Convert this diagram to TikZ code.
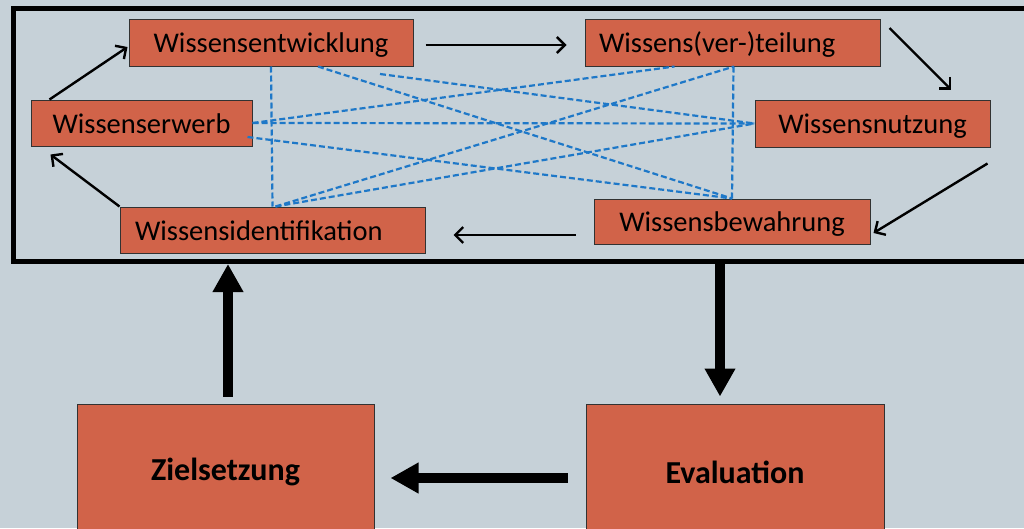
\documentclass[tikz,border=0pt]{standalone}
\usepackage{fontspec}
\setmainfont{Carlito}
\usetikzlibrary{arrows.meta}
\definecolor{bg}{RGB}{198,209,216}
\definecolor{boxfill}{RGB}{209,99,73}
\definecolor{boxline}{RGB}{50,50,50}
\definecolor{dash}{RGB}{30,120,200}
\tikzset{
  box/.style={draw=boxline, line width=1pt, fill=boxfill, inner sep=0pt,
    text height=20pt, text depth=0pt,
    font=\fontsize{28.5}{32}\selectfont, text=black},
  bigbox/.style={draw=boxline, line width=1pt, fill=boxfill, inner sep=0pt,
    font=\fontsize{32}{36}\selectfont\bfseries, text=black},
  thin/.style={line width=2.4pt, -{Straight Barb[length=8pt,width=16pt,line width=2.4pt]}},
  thick/.style={line width=10pt, -{Triangle[length=28pt,width=29pt]}},
  link/.style={draw=dash, line width=2.2pt, dash pattern=on 6pt off 3pt},
}
\begin{document}
\begin{tikzpicture}[x=1pt,y=-1pt]
\useasboundingbox (0,0) rectangle (1024,528);
\clip (0,0) rectangle (1024,528);
\fill[bg] (0,0) rectangle (1024,528);
\draw[line width=5pt] (13,8) rectangle (1040,261);

\node[box, minimum width=284pt, minimum height=47pt] (E) at (271,42.5) {Wissensentwicklung};
\node[box, text width=267pt, inner xsep=14pt, minimum height=47pt, align=left] (T) at (732.5,42.5) {Wissens(ver-)teilung};
\node[box, minimum width=221pt, minimum height=46pt] (Er) at (141.5,123) {Wissenserwerb};
\node[box, minimum width=235pt, minimum height=47pt] (N) at (872.5,123.5) {Wissensnutzung};
\node[box, text width=275pt, inner xsep=15pt, minimum height=46pt, align=left] (I) at (272.5,230) {Wissensidentifikation};
\node[box, minimum width=276pt, minimum height=45pt] (B) at (732,221.5) {Wissensbewahrung};

\node[bigbox, minimum width=297pt, minimum height=136pt] (Z) at (225.5,472) {Zielsetzung};
\node[bigbox, minimum width=298pt, minimum height=136pt] (Ev) at (735,472) {Evaluation};

\coordinate (float) at (380,74);
\coordinate (zt) at (228,264);
\coordinate (et) at (720,264);

% dashed links
\draw[link] (E.south) -- (I.north);
\draw[link] ([xshift=47pt]E.south) -- (B.north);
\draw[link] (float) -- (N.west);
\draw[link] (Er.east) -- ([xshift=-58pt]T.south);
\draw[link] (Er.east) -- (N.west);
\draw[link] ([xshift=-5pt,yshift=-14pt]Er.east) -- (B.north);
\draw[link] ([xshift=3pt]I.north) -- ([xshift=1.5pt]T.south);
\draw[link] ([xshift=3pt]I.north) -- (N.west);
\draw[link] ([xshift=1pt]T.south) -- (B.north);

% thin cycle arrows
\draw[thin] ([xshift=19pt]Er.north west) -- ([xshift=-1pt,yshift=-4.5pt]E.west);
\draw[thin] ([xshift=12pt,yshift=-2.5pt]E.east) -- ([xshift=-18pt,yshift=-2.5pt]T.west);
\draw[thin] ([xshift=9pt,yshift=14.5pt]T.east) -- ([xshift=78.5pt,yshift=10pt]N.north);
\draw[thin] ([xshift=-3pt,yshift=-16pt]N.south east) -- ([xshift=3pt,yshift=-11.5pt]B.east);
\draw[thin] ([xshift=-18pt,yshift=-13.5pt]B.west) -- ([xshift=28pt,yshift=-5pt]I.east);
\draw[thin] (I.north west) -- ([xshift=20pt,yshift=-8pt]Er.south west);

% thick arrows
\draw[thick] ([xshift=2.5pt,yshift=7pt]Z.north) -- (zt);
\draw[thick] (et) -- ([xshift=-15pt,yshift=7pt]Ev.north);
\draw[thick] ([xshift=-18pt,yshift=-6pt]Ev.west) -- ([xshift=16pt,yshift=-6pt]Z.east);
\end{tikzpicture}
\end{document}
